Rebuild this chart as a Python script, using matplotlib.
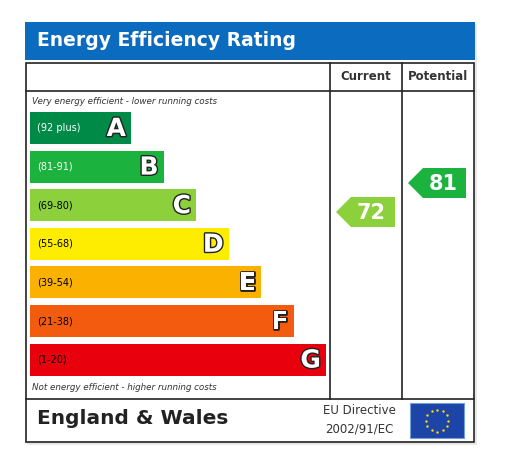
import matplotlib
matplotlib.use("Agg")
import matplotlib.pyplot as plt
import matplotlib.patheffects as pe
from matplotlib.patches import Rectangle, Polygon
import numpy as np

bands = ["A", "B", "C", "D", "E", "F", "G"]
ranges = ["(92 plus)", "(81-91)", "(69-80)", "(55-68)", "(39-54)", "(21-38)", "(1-20)"]
colors = ["#008a47", "#1bb33e", "#8cd13c", "#ffed00", "#fbb100", "#f35b0f", "#e9000d"]
range_text_colors = ["white", "white", "black", "black", "black", "black", "black"]
current = 72
potential = 81
current_color = "#8cd13c"
potential_color = "#1bb33e"

W, H = 513, 462
fig = plt.figure(figsize=(W/100, H/100), dpi=100)
ax = fig.add_axes([0, 0, 1, 1])
ax.set_xlim(0, W); ax.set_ylim(H, 0); ax.axis("off")

ax.add_patch(Rectangle((27, 24), 450, 421, fc="#e8e8e8", ec="none", zorder=0))
ax.add_patch(Rectangle((25, 22), 450, 420, fc="white", ec="none", zorder=1))
ax.add_patch(Rectangle((25, 22), 450, 38, fc="#0b6bbf", ec="none", zorder=2))
ax.text(37, 41, "Energy Efficiency Rating", color="white", fontsize=13.5, fontweight="bold", va="center", zorder=3)
lc = "#222222"
ax.add_patch(Rectangle((26, 63), 448, 379, fc="none", ec=lc, lw=1.2, zorder=3))
ax.plot([26, 474], [91, 91], color=lc, lw=1.2, zorder=3)
ax.plot([26, 474], [399, 399], color=lc, lw=1.2, zorder=3)
for x in (330, 402):
    ax.plot([x, x], [63, 399], color=lc, lw=1.2, zorder=3)
ax.text(366, 77, "Current", fontsize=8.5, fontweight="bold", ha="center", va="center", color="#333", zorder=4)
ax.text(438, 77, "Potential", fontsize=8.5, fontweight="bold", ha="center", va="center", color="#333", zorder=4)
ax.text(32, 101, "Very energy efficient - lower running costs", fontsize=6.3, style="italic", va="center", color="#333", zorder=4)
ax.text(32, 387, "Not energy efficient - higher running costs", fontsize=6.3, style="italic", va="center", color="#333", zorder=4)

top0, step, bh = 112, 38.6, 32
for i, (b, r, c, tc) in enumerate(zip(bands, ranges, colors, range_text_colors)):
    y = top0 + i*step
    w = 101 + i*32.5
    ax.add_patch(Rectangle((30, y), w, bh, fc=c, ec="none", zorder=4))
    ax.text(37, y+bh/2, r, fontsize=7, color=tc, va="center", zorder=5)
    ax.text(30+w-5, y+bh/2+1, b, fontsize=18, fontweight="bold", color="white", ha="right", va="center", zorder=5,
            path_effects=[pe.withStroke(linewidth=2, foreground="#222")])

def arrow(v, x0, x1, col):
    yc = 183 + (81 - v) * 3.22
    h = 30
    pts = [(x0, yc), (x0+h/2, yc-h/2), (x1, yc-h/2), (x1, yc+h/2), (x0+h/2, yc+h/2)]
    ax.add_patch(Polygon(pts, closed=True, fc=col, ec="none", zorder=5))
    ax.text((x0+x1)/2+6, yc+1, str(v), fontsize=15, fontweight="bold", color="white", ha="center", va="center", zorder=6)

arrow(current, 336, 395, current_color)
arrow(potential, 408, 466, potential_color)

ax.text(37, 419, "England & Wales", fontsize=14.5, fontweight="bold", va="center", color="#222", zorder=4)
ax.text(359, 411, "EU Directive", fontsize=8.5, ha="center", va="center", color="#333", zorder=4)
ax.text(359, 429, "2002/91/EC", fontsize=8.5, ha="center", va="center", color="#333", zorder=4)
ax.add_patch(Rectangle((410, 403), 54, 35, fc="#1d45a8", ec="#6fa0d8", lw=0.8, zorder=4))
ang = np.linspace(0, 2*np.pi, 13)[:-1]
ax.scatter(437 + 11*np.cos(ang), 420.5 + 11*np.sin(ang), s=3, c="#ffdd00", zorder=5, linewidths=0)

fig.savefig("out.png", dpi=100)
